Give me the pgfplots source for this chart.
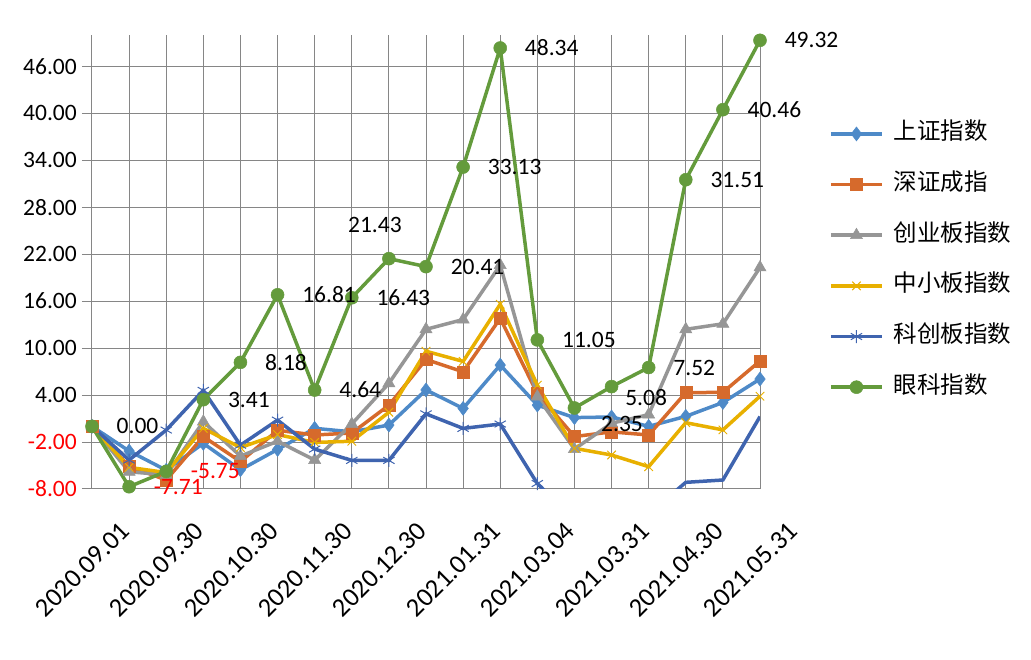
\documentclass[border=0pt]{standalone}
\usepackage{fontspec}
\setmainfont{Carlito}
\newfontfamily\cjk{Noto Sans CJK SC}
\usepackage{pgfplots}
\usepackage{pgfplotstable}
\pgfplotsset{compat=1.18}
\definecolor{cSH}{RGB}{78,138,200}
\definecolor{cSZ}{RGB}{214,106,44}
\definecolor{cCY}{RGB}{150,150,150}
\definecolor{cZX}{RGB}{232,176,0}
\definecolor{cKC}{RGB}{63,100,175}
\definecolor{cYK}{RGB}{100,155,60}
\definecolor{gridc}{RGB}{134,134,134}
\newcommand\fs{\fontsize{23.5pt}{28pt}\selectfont}
\newcommand\fx{\fontsize{26.5pt}{32pt}\selectfont}

\pgfplotstableread{
x sh sz cy zx kc yk
0 0 0 0 0 0 0
1 -3.15 -5.1 -5.8 -5.24 -4.3 -7.71
2 -5.6 -6.85 -6.2 -5.9 -0.47 -5.75
3 -2.17 -1.3 0.6 -0.26 4.6 3.41
4 -5.55 -4.5 -3.8 -2.7 -2.4 8.18
5 -2.95 -0.5 -1.9 -1.05 0.8 16.81
6 -0.25 -1.1 -4.3 -2.05 -2.9 4.64
7 -0.7 -0.85 0.3 -1.9 -4.35 16.43
8 0.17 2.7 5.5 1.8 -4.35 21.43
9 4.65 8.55 12.4 9.6 1.6 20.41
10 2.3 6.97 13.65 8.3 -0.26 33.13
11 7.83 13.8 20.6 15.6 0.3 48.34
12 2.72 4.2 3.8 5.27 -7.3 11.05
13 1.12 -1.3 -2.9 -2.8 -12.0 2.35
14 1.2 -0.7 0.4 -3.66 -13.0 5.08
15 0.0 -1.1 1.5 -5.15 -11.2 7.52
16 1.28 4.3 12.4 0.47 -7.15 31.51
17 3.05 4.35 13.1 -0.45 -6.85 40.46
18 6.05 8.35 20.3 3.85 1.25 49.32
}\data

\begin{document}
\begin{tikzpicture}
\begin{axis}[
  scale only axis, width=668pt, height=454pt,
  xmin=0, xmax=18, ymin=-8, ymax=50,
  axis x line*=bottom, axis y line*=left,
  axis line style={gridc, line width=1pt, -},
  xtick={0,...,18},
  xticklabels={2020.09.01,,2020.09.30,,2020.10.30,,2020.11.30,,2020.12.30,,2021.01.31,,2021.03.04,,2021.03.31,,2021.04.30,,2021.05.31},
  ytick={-8,-2,...,46},
  yticklabels={\textcolor{red}{-8.00},\textcolor{red}{-2.00},4.00,10.00,16.00,22.00,28.00,34.00,40.00,46.00},
  grid=major, major grid style={gridc, line width=1pt},
  xtick style={draw=none},
  ytick style={gridc, line width=1pt},
  tick align=outside, major tick length=10pt,
  ticklabel style={font=\fs, text=black},
  xticklabel style={font=\fx, rotate=45, anchor=east, inner sep=0pt, xshift=4pt, yshift=-43pt},
  yticklabel style={anchor=east, inner sep=0pt, xshift=-5pt},
  legend image code/.code={\draw[mark repeat=2,mark phase=2,#1] plot coordinates {(0pt,0pt) (25.5pt,0pt) (51pt,0pt)};},
  legend style={at={(rel axis cs:1.1033,0.8068)}, anchor=north west, draw=none, fill=none,
    inner sep=0pt, font=\cjk\fs, row sep=28.65pt, column sep=10pt,
    nodes={inner sep=0pt, text height=17pt, text depth=5pt}},
  legend cell align=left,
  every axis plot/.append style={line width=3.5pt},
]
\addplot[cSH, mark=diamond*, mark size=7pt, mark options={solid, line width=0.5pt}] table[x=x, y=sh] {\data};
\addlegendentry{上证指数}
\addplot[cSZ, mark=square*, mark size=6pt, mark options={solid, line width=0.5pt}] table[x=x, y=sz] {\data};
\addlegendentry{深证成指}
\addplot[cCY, mark=triangle*, mark size=7pt, mark options={solid, line width=0.5pt}] table[x=x, y=cy] {\data};
\addlegendentry{创业板指数}
\addplot[cZX, mark=x, mark size=6pt, mark options={solid, line width=1pt}] table[x=x, y=zx] {\data};
\addlegendentry{中小板指数}
\addplot[cKC, mark=asterisk, mark size=6.5pt, mark options={solid, line width=1pt},
  mark indices={1,2,3,4,5,6,7,8,9,10,11,12,13,17,18,19},
  legend image post style={mark indices={2}}] table[x=x, y=kc] {\data};
\addlegendentry{科创板指数}
\addplot[cYK, mark=*, mark size=6.5pt, mark options={solid, line width=0.5pt}] table[x=x, y=yk] {\data};
\addlegendentry{眼科指数}

\addplot[draw=none, mark=none, forget plot, nodes near coords, point meta=explicit symbolic,
  nodes near coords style={anchor=west, xshift=23pt, inner sep=0pt, font=\fs, text=black}]
  coordinates {(0,0)[0.00] (3,3.41)[3.41] (4,8.18)[8.18] (5,16.81)[16.81] (6,4.64)[4.64] (7,16.43)[16.43]
  (9,20.41)[20.41] (10,33.13)[33.13] (11,48.34)[48.34] (12,11.05)[11.05] (15,7.52)[7.52]
  (16,31.51)[31.51] (17,40.46)[40.46] (18,49.32)[49.32]};
\addplot[draw=none, mark=none, forget plot, nodes near coords, point meta=explicit symbolic,
  nodes near coords style={anchor=west, xshift=23pt, inner sep=0pt, font=\fs, text=red}]
  coordinates {(1,-7.71)[-7.71] (2,-5.75)[-5.75]};
\addplot[draw=none, mark=none, forget plot, nodes near coords, point meta=explicit symbolic,
  nodes near coords style={anchor=center, xshift=-14pt, yshift=34pt, inner sep=0pt, font=\fs, text=black}]
  coordinates {(8,21.43)[21.43]};
\addplot[draw=none, mark=none, forget plot, nodes near coords, point meta=explicit symbolic,
  nodes near coords style={anchor=west, xshift=25pt, yshift=-15.5pt, inner sep=0pt, font=\fs, text=black}]
  coordinates {(13,2.35)[2.35]};
\addplot[draw=none, mark=none, forget plot, nodes near coords, point meta=explicit symbolic,
  nodes near coords style={anchor=west, xshift=12pt, yshift=-10.5pt, inner sep=0pt, font=\fs, text=black}]
  coordinates {(14,5.08)[5.08]};
\end{axis}
\pgfresetboundingbox
\path[use as bounding box] (-92pt,-171pt) rectangle (939pt,489pt);
\end{tikzpicture}
\end{document}
